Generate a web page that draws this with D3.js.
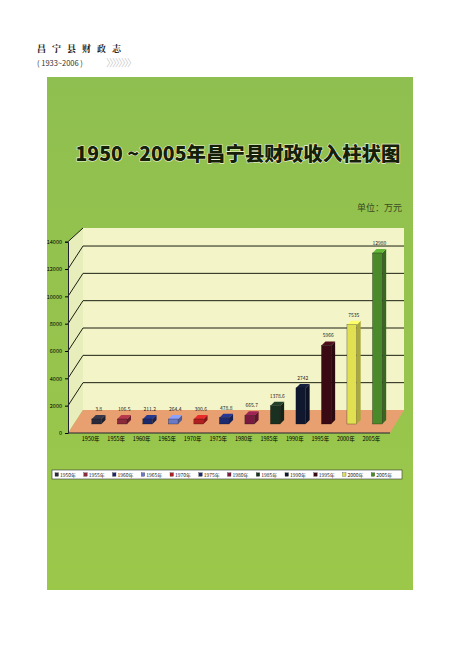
<!DOCTYPE html>
<html><head><meta charset="utf-8">
<script src="https://cdn.jsdelivr.net/npm/d3@7"></script>
<style>body{margin:0;background:#fff}</style></head>
<body><svg id="c" width="450" height="657"></svg>
<script>
const years = ["1950年","1955年","1960年","1965年","1970年","1975年","1980年","1985年","1990年","1995年","2000年","2005年"];
const values = [3.8,106.5,211.2,264.4,300.6,478.8,665.7,1378.6,2742,5966,7535,12980];
const labels = ["3.8","106.5","211.2","264.4","300.6","478.8","665.7","1378.6","2742","5966","7535","12980"];
const colors = ["#2a2a3a","#8a2a3a","#1c2a6a","#6a7ac8","#b02020","#1c2a70","#7a1a40","#1a3020","#101830","#3a0a14","#e0e050","#4a8a2a"];
const yTicks = [0,2000,4000,6000,8000,10000,12000,14000];

const svg = d3.select("#c");
const ff = "'Noto Sans CJK SC', sans-serif";

// page header
svg.append("text").attr("x",37).attr("y",52).attr("font-family","'Noto Serif CJK SC', "+ff)
  .attr("font-size",9).attr("font-weight","bold").attr("fill","#222").attr("letter-spacing",6).text("昌宁县财政志");
svg.append("text").attr("x",37).attr("y",66).attr("font-family",ff).attr("font-size",7.5).attr("fill","#333").text("( 1933~2006 )");
svg.append("text").attr("x",106).attr("y",67).attr("font-family",ff).attr("font-size",10).attr("fill","#ccc").attr("letter-spacing",-2).text("〉〉〉〉〉〉〉〉");

// green panel
const grad = svg.append("defs").append("linearGradient").attr("id","g").attr("x1",0).attr("x2",0).attr("y1",0).attr("y2",1);
grad.append("stop").attr("offset",0).attr("stop-color","#8fbf50");
grad.append("stop").attr("offset",1).attr("stop-color","#9cc84a");
svg.append("rect").attr("x",47).attr("y",77).attr("width",366).attr("height",513).attr("fill","url(#g)");

svg.append("text").attr("x",238).attr("y",161).attr("text-anchor","middle").attr("font-family",ff)
  .attr("font-size",19.5).attr("font-weight","900").attr("fill","#142008").attr("stroke","#eef4dc").attr("stroke-width",1.2)
  .attr("paint-order","stroke").attr("textLength",325).attr("lengthAdjust","spacingAndGlyphs")
  .text("1950 ~2005年昌宁县财政收入柱状图");
svg.append("text").attr("x",402).attr("y",211).attr("text-anchor","end").attr("font-family",ff)
  .attr("font-size",9).attr("fill","#3a4a20").text("单位：万元");

// plot geometry
const dx = 15, dy = -23;
const x0 = 68, x1 = 390, xBackEnd = 404, yFront = 433, wallTop = 228;
const y = d3.scaleLinear().domain([0,14000]).range([yFront, 241.7]);
const x = d3.scaleBand().domain(years).range([76, 398]).padding(0.62);

// back wall + side wall
svg.append("rect").attr("x",x0+dx).attr("y",wallTop).attr("width",xBackEnd-x0-dx).attr("height",yFront+dy-wallTop)
  .attr("fill","#f3f5c8");
svg.append("path").attr("d",`M${x0},${yFront}L${x0},${y(14000)}L${x0+dx},${wallTop}L${x0+dx},${yFront+dy}Z`).attr("fill","#e8eebb");
// grid
yTicks.slice(1,7).forEach(t=>{
  svg.append("path").attr("d",`M${x0},${y(t)}L${x0+dx},${y(t)+dy}L${xBackEnd},${y(t)+dy}`)
    .attr("fill","none").attr("stroke","#1a1f10").attr("stroke-width",1);
});
svg.append("path").attr("d",`M${x0},${y(14000)}L${x0+dx},${wallTop}`).attr("stroke","#1a1f10").attr("stroke-width",1);
// floor
svg.append("path").attr("d",`M${x0},${yFront}L${x0+dx},${yFront+dy}L${xBackEnd},${yFront+dy}L${x1},${yFront}Z`).attr("fill","#e8a070");

// y axis
const ya = svg.append("g").attr("transform",`translate(${x0},0)`).call(d3.axisLeft(y).tickValues(yTicks).tickSize(3).tickFormat(d3.format("d")));
ya.selectAll("text").attr("font-size",5.5).attr("font-family",ff);
ya.select(".domain").attr("stroke","#223");
// x axis
const xa = svg.append("g").attr("transform",`translate(-6,${yFront})`).call(d3.axisBottom(x).tickSize(0));
xa.select(".domain").attr("d",`M${x0+6},0H${x1+6}`).attr("stroke","#223");
xa.selectAll("text").attr("font-size",5.5).attr("font-family",ff).attr("dy","0.9em");

// bars (3D), measured from the floor
const bd = 4, bh = -4;
const base = 424;
const h = d3.scaleLinear().domain([0,12980]).range([0,171]);
const g = svg.append("g");
years.forEach((yr,i)=>{
  const bx = x(yr), bw = x.bandwidth();
  const top = Math.min(base - h(values[i]), base - 5);
  const c = d3.color(colors[i]);
  g.append("path").attr("d",`M${bx+bw},${base}L${bx+bw+bd},${base+bh}L${bx+bw+bd},${top+bh}L${bx+bw},${top}Z`).attr("fill",c.darker(0.8));
  g.append("path").attr("d",`M${bx},${top}L${bx+bd},${top+bh}L${bx+bw+bd},${top+bh}L${bx+bw},${top}Z`).attr("fill",c.brighter(0.8));
  g.append("rect").attr("x",bx).attr("y",top).attr("width",bw).attr("height",base-top).attr("fill",c).attr("stroke","#111").attr("stroke-width",0.3);
  g.append("text").attr("x",bx+bw/2+2).attr("y",top+bh-4).attr("text-anchor","middle").attr("font-size",5)
    .attr("font-family",ff).attr("fill","#222").text(labels[i]);
});

// legend
const lg = svg.append("g").attr("transform","translate(52,470)");
lg.append("rect").attr("width",350).attr("height",9).attr("fill","#fff").attr("stroke","#333").attr("stroke-width",0.6);
const lx = d3.scaleBand().domain(years).range([3,348]);
years.forEach((yr,i)=>{
  lg.append("rect").attr("x",lx(yr)).attr("y",2.8).attr("width",3.5).attr("height",3.5).attr("fill",colors[i]).attr("stroke","#333").attr("stroke-width",0.3);
  lg.append("text").attr("x",lx(yr)+5).attr("y",6.5).attr("font-size",5).attr("font-family",ff).attr("fill","#222").text(yr);
});
</script></body></html>
